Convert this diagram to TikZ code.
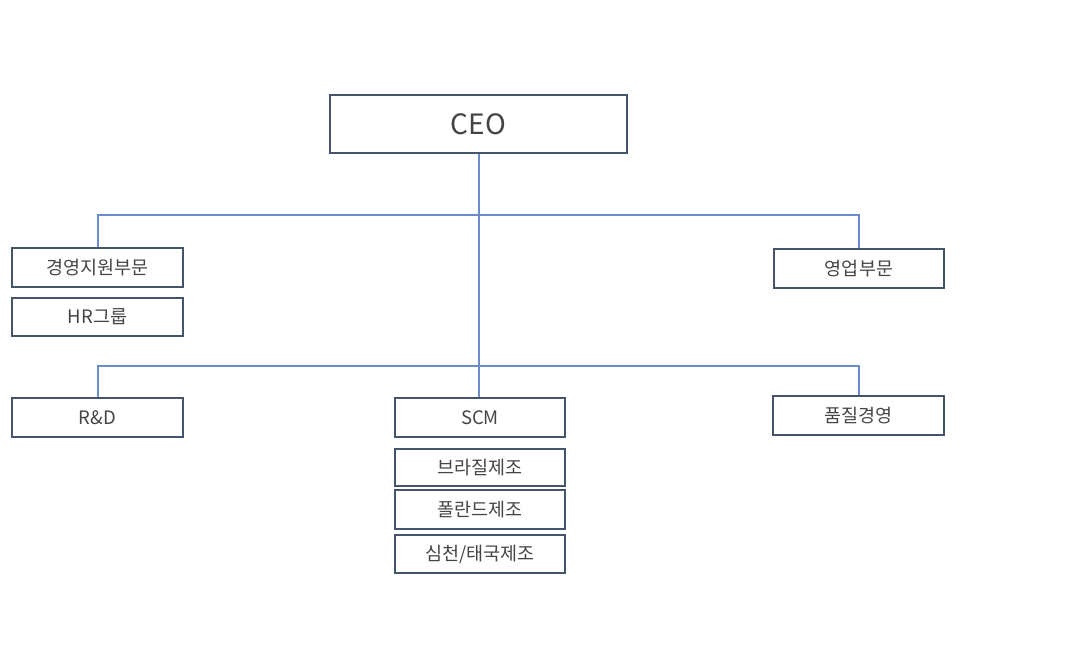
\documentclass[tikz,border=0pt]{standalone}
\usepackage{fontspec}
\setmainfont{Noto Sans CJK KR}
\begin{document}
\begin{tikzpicture}[x=1pt,y=-1pt,
  box/.style={draw=boxc, line width=2.8pt, fill=white, text=txtc, inner sep=0pt,
    minimum width=171pt, minimum height=39pt, font=\fontsize{18.5}{20}\selectfont},
  conn/.style={draw=linec, line width=2pt}]
\definecolor{boxc}{HTML}{44546A}
\definecolor{linec}{HTML}{6A8CCB}
\definecolor{txtc}{HTML}{454545}
\useasboundingbox (0,0) rectangle (1076,657);
\node[box, minimum width=297pt, minimum height=58pt, font=\fontsize{28}{32}\selectfont] (ceo) at (478.5,124) {CEO};
\node[box] (gy) at (97.5,267.5) {경영지원부문};
\node[box, minimum height=38pt] (hr) at (97.5,317) {HR그룹};
\node[box, minimum width=170pt] (yb) at (859,268.5) {영업부문};
\node[box] (rd) at (97.5,417.5) {R\&D};
\node[box, minimum width=170pt] (scm) at (480,417.5) {SCM};
\node[box] (pj) at (858.5,415.5) {품질경영};
\node[box, minimum width=170pt, minimum height=37pt] (br) at (480,467.5) {브라질제조};
\node[box, minimum width=170pt] (pl) at (480,509.5) {폴란드제조};
\node[box, minimum width=170pt, minimum height=38pt] (st) at (480,554) {심천/태국제조};
\coordinate (top) at (479,215);
\coordinate (mid) at (479,366);
\draw[conn] (ceo.south) -- (ceo.south |- scm.north);
\draw[conn] (gy.north) -- (gy.north |- top) -- (top -| yb.north) -- (yb.north);
\draw[conn] (rd.north) -- (rd.north |- mid) -- (mid -| pj.north) -- (pj.north);
\end{tikzpicture}
\end{document}
